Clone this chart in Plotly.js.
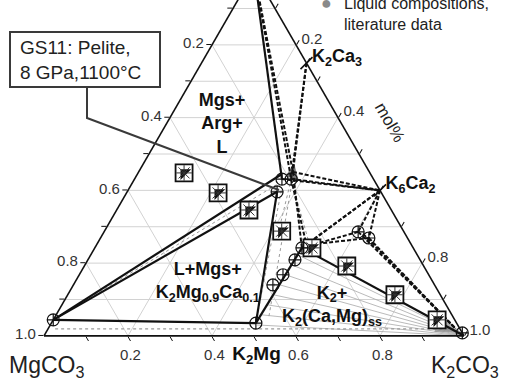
<!DOCTYPE html>
<html><head><meta charset="utf-8">
<script src="https://cdn.plot.ly/plotly-3.0.1.min.js"></script>
<style>
html,body{margin:0;padding:0;background:#fff;overflow:hidden;width:505px;height:383px}
#plot{position:absolute;left:0;top:-80px;width:505px;height:505px}
</style>
</head><body><div id="plot"></div>
<script>
// ternary compositions [a = CaCO3 (apex), b = MgCO3, c = K2CO3], mol fractions
const APEX  = [1, 0, 0];
const MGS   = [0.044, 0.956, 0.000];
const K2MG  = [0.035, 0.478, 0.487];
const K2CA3 = [0.75, 0, 0.25];
const K6CA2 = [0.40, 0, 0.60];
const KCORN = [0, 0, 1];
const L_A  = [0.4505, 0.182, 0.3675];
const L_1  = [0.431, 0.218, 0.351];
const L_2  = [0.431, 0.196, 0.373];
const L_3  = [0.396, 0.247, 0.357];
const L_UP = [0.445, 0.211, 0.344];
const L_4  = [0.286, 0.109, 0.605];
const L_5  = [0.269, 0.092, 0.639];
const L_6  = [0.242, 0.265, 0.493];
const L_MID = [0.42, 0.23, 0.35];
const L_7  = [0.25, 0.25, 0.50];
const K_END = [0.02, 0.01, 0.97];

// solid phase boundaries
const solidLines = [[APEX, L_1], [MGS, L_UP], [MGS, L_3], [MGS, K2MG], [K2MG, L_3], [K2MG, L_6], [L_6, KCORN]];
// dashed boundaries
const dashedLines = [[APEX, L_A], [APEX, L_2], [K2CA3, L_A], [K2CA3, L_2],
  [L_A, K6CA2], [L_2, K6CA2], [L_1, K6CA2], [K6CA2, L_4], [K6CA2, L_5], [K6CA2, L_6], [K6CA2, L_7],
  [L_4, L_6], [L_5, L_7], [L_4, K_END], [L_5, K_END], [[0.28,0.10,0.62], K_END], [L_A, L_6], [L_2, L_7]];
// thin tie lines
const tieLines = [[MGS, L_MID], [[0.40,0.235,0.365], K2MG], [[0.42,0.20,0.38], [0.05,0.44,0.51]],
  [L_A, [0.27,0.31,0.42]], [L_2, [0.26,0.24,0.50]]];
const fanEnds = [[0.2225,0.284,0.4935],[0.195,0.312,0.493],[0.1676,0.34,0.4924],[0.140,0.368,0.492],
  [0.1126,0.396,0.4914],[0.085,0.424,0.491],[0.0577,0.452,0.4903],[0.030,0.478,0.492]];
const dottedLine = [[0.019, 0.964, 0.017], [0.019, 0.012, 0.969]];
const liqField = [[0.4396,0.204,0.3564],[0.4725,0.1685,0.359],[0.4286,0.181,0.3904]];
const litField = [[0.0577,0.033,0.9093],[0.011,0.004,0.985],[0.011,0.064,0.925]];

// experimental run products (squares)
const sqA = [0.448, 0.393, 0.346, 0.288, 0.242, 0.192, 0.113, 0.044];
const sqB = [0.4425, 0.389, 0.339, 0.290, 0.241, 0.183, 0.108, 0.042];
const sqC = [0.1095, 0.218, 0.315, 0.422, 0.517, 0.625, 0.779, 0.914];
// circled cross compositions
const ciA = [0.044, 0.035, 0.008, 0.431, 0.431, 0.396, 0.286, 0.269, 0.242, 0.209, 0.168, 0.140];
const ciB = [0.956, 0.478, 0.000, 0.218, 0.196, 0.247, 0.109, 0.092, 0.265, 0.298, 0.347, 0.385];
const ciC = [0.000, 0.487, 0.992, 0.351, 0.373, 0.357, 0.605, 0.639, 0.493, 0.493, 0.485, 0.475];

// field labels
const labText = ['<b>Mgs+<br>Arg+<br>L</b>', '<b>L+Mgs+<br>K<sub>2</sub>Mg<sub>0.9</sub>Ca<sub>0.1</sub></b>', '<b>K<sub>2</sub>+<br>K<sub>2</sub>(Ca,Mg)<sub>ss</sub></b>'];
const labA = [0.58, 0.148, 0.0824];
const labB = [0.286, 0.536, 0.273];
const labC = [0.134, 0.316, 0.6445];

// grid
const gridA = [0.1,0.2,0.3,0.4,0.5,0.6,0.7,0.8,0.9];
const gridB = [0.2,0.4,0.6,0.8];
const gridC = [0.2,0.4,0.6,0.8];

// ticks
const aTickVals = [0,0.1,0.2,0.3,0.4,0.5,0.6,0.7,0.8,0.9];
const aTickText = ['1.0','','0.8','','0.6','','0.4','','0.2',''];
const bTickVals = [0.1,0.2,0.3,0.4,0.5,0.6,0.7,0.8,0.9];
const bTickText = ['','0.8','','0.6','<span style="font-size:19px;color:#111"><b>K<sub>2</sub>Mg</b></span>','0.4','','0.2',''];
const cTickVals = [0.1,0.2,0.25,0.3,0.4,0.5,0.6,0.7,0.8,0.9,1.0];
const cTickText = ['','0.2','<span style="font-size:18px;color:#111"><b>K<sub>2</sub>Ca<sub>3</sub></b></span>','','0.4','','<span style="font-size:18px;color:#111"><b>K<sub>6</sub>Ca<sub>2</sub></b></span>','','0.8','','1.0'];

const FONT = 'Liberation Sans, Arial, sans-serif';
const traces = [];
function seg(pts, line, extra) {
  return Object.assign({type:'scatterternary', mode:'lines', a:pts.map(p=>p[0]), b:pts.map(p=>p[1]), c:pts.map(p=>p[2]),
    line:line, hoverinfo:'skip', showlegend:false}, extra||{});
}
gridA.forEach(v => traces.push(seg([[v,1-v,0],[v,0,1-v]], {color:'#d2d2d2', width:1})));
gridB.forEach(v => traces.push(seg([[1-v,v,0],[0,v,1-v]], {color:'#d2d2d2', width:1})));
gridC.forEach(v => traces.push(seg([[1-v,0,v],[0,1-v,v]], {color:'#d2d2d2', width:1})));
fanEnds.forEach(p => traces.push(seg([KCORN, p], {color:'#a8a8a8', width:0.8})));
traces.push(seg(dottedLine, {color:'#9a9a9a', width:1.2, dash:'dot'}));
tieLines.forEach(s => traces.push(seg(s, {color:'#9a9a9a', width:1, dash:'dot'})));
traces.push(seg(liqField.concat([liqField[0]]), {color:'#666', width:0.5}, {fill:'toself', fillcolor:'#7a7a7a'}));
traces.push(seg(litField.concat([litField[0]]), {color:'#999', width:0.5}, {fill:'toself', fillcolor:'rgba(120,120,120,0.6)'}));
dashedLines.forEach(s => traces.push(seg(s, {color:'#111', width:2, dash:'4px,2px'})));
solidLines.forEach(s => traces.push(seg(s, {color:'#111', width:2.2})));
// phase tick marks
traces.push({type:'scatterternary', mode:'markers', a:[K2CA3[0],K6CA2[0]], b:[K2CA3[1],K6CA2[1]], c:[K2CA3[2],K6CA2[2]],
  marker:{symbol:'line-ne-open', size:12, color:'#111', line:{color:'#111', width:1.6}}, hoverinfo:'skip', showlegend:false, cliponaxis:false});
// squares
traces.push({type:'scatterternary', mode:'markers', a:sqA, b:sqB, c:sqC,
  marker:{symbol:'square', size:17, color:'#fff', line:{color:'#111', width:1.8}}, hoverinfo:'skip', showlegend:false});
traces.push({type:'scatterternary', mode:'markers', a:sqA, b:sqB, c:sqC,
  marker:{symbol:'triangle-nw', size:12, color:'#111', line:{width:0}}, hoverinfo:'skip', showlegend:false});
traces.push({type:'scatterternary', mode:'markers', a:sqA, b:sqB, c:sqC,
  marker:{symbol:'asterisk-open', size:13, color:'#333', line:{color:'#333', width:1}}, hoverinfo:'skip', showlegend:false});
// circled crosses
traces.push({type:'scatterternary', mode:'markers', a:ciA, b:ciB, c:ciC,
  marker:{symbol:'circle-cross-open', size:12, color:'#111', line:{color:'#111', width:1.2}}, hoverinfo:'skip', showlegend:false, cliponaxis:false});
// field labels
traces.push({type:'scatterternary', mode:'text', a:labA, b:labB, c:labC, text:labText, textposition:'middle center',
  textfont:{family:FONT, size:18, color:'#111'}, hoverinfo:'skip', showlegend:false, cliponaxis:false});

const ML=44, MT=52, PW=420, PH=364, TOP=-80;
const X = px => (px-ML)/PW;
const Y = py => 1-(py-TOP-MT)/PH;

function axis(vals, text) {
  return {min:0, tickmode:'array', tickvals:vals, ticktext:text, ticks:'outside', ticklen:5, tickcolor:'#111',
    tickwidth:1, linecolor:'#111', linewidth:1.6, showgrid:false, tickfont:{family:FONT, size:15, color:'#333'},
    title:{text:''}, layer:'above traces'};
}

const layout = {
  width:505, height:505, margin:{l:ML, r:505-ML-PW, t:MT, b:505-MT-PH}, paper_bgcolor:'#fff', showlegend:false,
  ternary:{sum:1, bgcolor:'#fff', domain:{x:[0,1], y:[0,1]},
    aaxis:axis(aTickVals, aTickText), baxis:axis(bTickVals, bTickText), caxis:axis(cTickVals, cTickText)},
  shapes:[
    {type:'rect', xref:'paper', yref:'paper', x0:X(10), x1:X(160), y0:Y(32), y1:Y(87), line:{color:'#3a3a3a', width:2}, fillcolor:'#fff'},
    {type:'path', xref:'paper', yref:'paper', path:`M ${X(87)} ${Y(87)} L ${X(87)} ${Y(118)} L ${X(279)} ${Y(190)}`, line:{color:'#3a3a3a', width:2}}
  ],
  annotations:[
    {xref:'paper', yref:'paper', x:X(18), y:Y(60), xanchor:'left', yanchor:'middle', align:'left', showarrow:false,
     text:'GS11: Pelite,<br>8 GPa,1100°C', font:{family:FONT, size:19, color:'#222'}},
    {xref:'paper', yref:'paper', x:X(46), y:Y(366), xanchor:'center', yanchor:'middle', showarrow:false,
     text:'MgCO<sub>3</sub>', font:{family:FONT, size:23, color:'#222'}},
    {xref:'paper', yref:'paper', x:X(465), y:Y(367), xanchor:'center', yanchor:'middle', showarrow:false,
     text:'K<sub>2</sub>CO<sub>3</sub>', font:{family:FONT, size:23, color:'#222'}},
    {xref:'paper', yref:'paper', x:X(390), y:Y(122), xanchor:'center', yanchor:'middle', showarrow:false, textangle:60,
     text:'mol%', font:{family:FONT, size:17, color:'#222'}},
    {xref:'paper', yref:'paper', x:X(326), y:Y(3), xanchor:'center', yanchor:'middle', showarrow:false,
     text:'●', font:{family:FONT, size:18, color:'#8a8a8a'}},
    {xref:'paper', yref:'paper', x:X(342), y:Y(14), xanchor:'left', yanchor:'middle', align:'left', showarrow:false,
     text:'Liquid compositions,<br>literature data', font:{family:FONT, size:16, color:'#222'}}
  ]
};
Plotly.newPlot('plot', traces, layout, {staticPlot:true, displayModeBar:false});
</script>
</body></html>
